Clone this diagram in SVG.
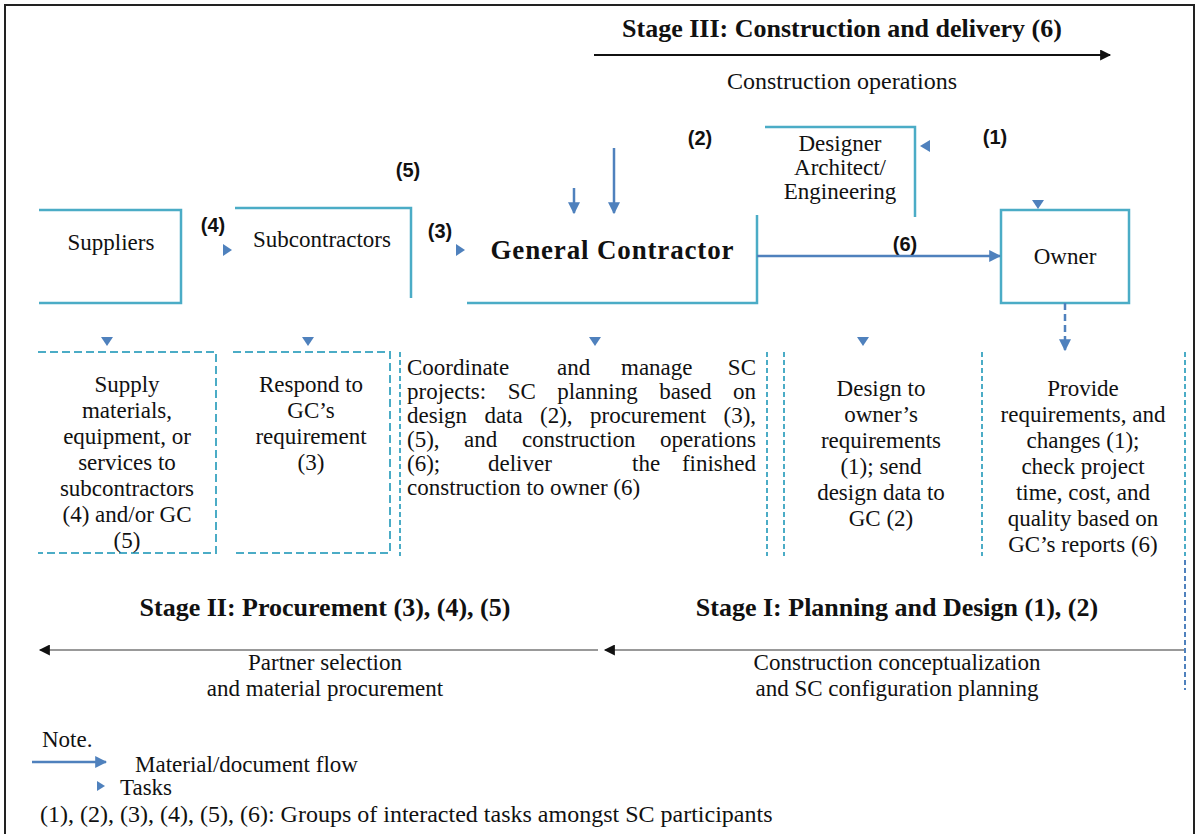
<svg xmlns="http://www.w3.org/2000/svg" width="1199" height="834" viewBox="0 0 1199 834">
<defs>
<style>
.frame{fill:none;stroke:#222;stroke-width:2}
.box{fill:none;stroke:#4BACC6;stroke-width:2.5}
.dash{fill:none;stroke:#4BACC6;stroke-width:2;stroke-dasharray:8 4}
.vdash{fill:none;stroke:#4BACC6;stroke-width:2;stroke-dasharray:5 3}
.flow{fill:none;stroke:#4F81BD;stroke-width:2.5}
.tri{fill:#4F81BD}
.stage{fill:none;stroke:#999;stroke-width:2}
.t{font-family:"Liberation Serif","Times New Roman",serif;font-size:23px;fill:#111}
.c{text-anchor:middle}
.h{font-family:"Liberation Serif","Times New Roman",serif;font-size:26px;font-weight:bold;fill:#111;text-anchor:middle}
.n{font-family:"Liberation Sans",Arial,sans-serif;font-size:20px;font-weight:bold;fill:#111;text-anchor:middle}
</style>
<marker id="ab2" viewBox="0 0 10 10" refX="9" refY="5" markerWidth="12" markerHeight="12" orient="auto" markerUnits="userSpaceOnUse">
<path d="M0,0 L10,5 L0,10 z" fill="#4F81BD"/>
</marker>
<marker id="ak" viewBox="0 0 10 10" refX="9" refY="5" markerWidth="13" markerHeight="11" orient="auto" markerUnits="userSpaceOnUse">
<path d="M0,0 L10,5 L0,10 z" fill="#111"/>
</marker>
</defs>
<rect width="1199" height="834" fill="#fff"/>
<rect class="frame" x="5" y="5" width="1189" height="850"/>

<g id="stage3">
<text class="h" x="842" y="37">Stage III: Construction and delivery (6)</text>
<text class="t c" x="842" y="89" style="font-size:24px">Construction operations</text>
</g>
<g id="stage2">
<text class="h" x="325" y="616">Stage II: Procurement (3), (4), (5)</text>
<text class="t c" x="325" y="670">Partner selection</text>
<text class="t c" x="325" y="696">and material procurement</text>
</g>
<g id="stage1">
<text class="h" x="897" y="616">Stage I: Planning and Design (1), (2)</text>
<text class="t c" x="897" y="670">Construction conceptualization</text>
<text class="t c" x="897" y="696">and SC configuration planning</text>
</g>

<g id="suppliers">
<path class="box" d="M39,210 H181 V303 H39"/>
<text class="t c" x="111" y="250">Suppliers</text>
</g>
<g id="subcontractors">
<path class="box" d="M235,208 H411 V298"/>
<text class="t c" x="322" y="247">Subcontractors</text>
</g>
<g id="general-contractor">
<path class="box" d="M467,303 H757 V215"/>
<text x="612" y="259" font-family="Liberation Serif, Times New Roman, serif" font-size="27" font-weight="bold" fill="#111" text-anchor="middle" textLength="243" lengthAdjust="spacing">General Contractor</text>
</g>
<g id="designer">
<path class="box" d="M765,127 H915 V217"/>
<text class="t c" x="840" y="151">Designer</text>
<text class="t c" x="840" y="175">Architect/</text>
<text class="t c" x="840" y="199">Engineering</text>
</g>
<g id="owner">
<rect class="box" x="1001" y="210" width="128" height="93"/>
<text class="t c" x="1065" y="264">Owner</text>
</g>

<g id="labels">
<text class="n" x="700" y="145">(2)</text>
<text class="n" x="995" y="144">(1)</text>
<text class="n" x="408" y="177">(5)</text>
<text class="n" x="213" y="232">(4)</text>
<text class="n" x="440" y="238">(3)</text>
<text class="n" x="905" y="251">(6)</text>
</g>

<g id="connectors">
<line x1="594" y1="55" x2="1110" y2="55" stroke="#111" stroke-width="2" marker-end="url(#ak)"/>
<line class="flow" x1="574" y1="188" x2="574" y2="213" marker-end="url(#ab2)"/>
<line class="flow" x1="614" y1="148" x2="614" y2="213" marker-end="url(#ab2)"/>
<line class="flow" x1="757" y1="256" x2="1000" y2="256" marker-end="url(#ab2)"/>
<line class="flow" x1="1065" y1="303" x2="1065" y2="350" stroke-dasharray="7 4" marker-end="url(#ab2)"/>
<line class="stage" x1="598" y1="650" x2="40" y2="650" marker-end="url(#ak)"/>
<line class="stage" x1="1185" y1="650" x2="605" y2="650" marker-end="url(#ak)"/>
</g>

<g id="tasks">
<polygon class="tri" points="920,146 930,140 930,152"/>
<polygon class="tri" points="1032,200 1044,200 1038,209"/>
<polygon class="tri" points="223,244 232,250 223,256"/>
<polygon class="tri" points="456,244 465,250 456,256"/>
<polygon class="tri" points="101,337 113,337 107,346"/>
<polygon class="tri" points="302,337 314,337 308,346"/>
<polygon class="tri" points="589,337 601,337 595,346"/>
<polygon class="tri" points="857,337 869,337 863,346"/>
</g>

<g id="task-supply">
<path class="dash" d="M38,352 H216 V553 H38"/>
<text class="t c" x="127" y="392">Supply</text>
<text class="t c" x="127" y="418">materials,</text>
<text class="t c" x="127" y="444">equipment, or</text>
<text class="t c" x="127" y="470">services to</text>
<text class="t c" x="127" y="496">subcontractors</text>
<text class="t c" x="127" y="522">(4) and/or GC</text>
<text class="t c" x="127" y="548">(5)</text>
</g>
<g id="task-respond">
<path class="dash" d="M233,352 H390 V553 H233"/>
<text class="t c" x="311" y="392">Respond to</text>
<text class="t c" x="311" y="418">GC’s</text>
<text class="t c" x="311" y="444">requirement</text>
<text class="t c" x="311" y="470">(3)</text>
</g>
<g id="task-coordinate">
<line class="vdash" x1="400" y1="352" x2="400" y2="556"/>
<line class="vdash" x1="767" y1="352" x2="767" y2="556"/>
<text class="t" y="375"><tspan x="407">Coordinate</tspan><tspan x="557">and</tspan><tspan x="621">manage</tspan><tspan x="756" text-anchor="end">SC</tspan></text>
<text class="t" x="407" y="399" style="word-spacing:15.7px">projects: SC planning based on</text>
<text class="t" x="407" y="423" style="word-spacing:11.6px">design data (2), procurement (3),</text>
<text class="t" x="407" y="447" style="word-spacing:18.8px">(5), and construction operations</text>
<text class="t" y="471"><tspan x="407">(6);</tspan><tspan x="488">deliver</tspan><tspan x="632">the</tspan><tspan x="756" text-anchor="end">finished</tspan></text>
<text class="t" x="407" y="495">construction to owner (6)</text>
</g>
<g id="task-design">
<line class="vdash" x1="784" y1="352" x2="784" y2="556"/>
<line class="vdash" x1="982" y1="352" x2="982" y2="556"/>
<text class="t c" x="881" y="396">Design to</text>
<text class="t c" x="881" y="422">owner’s</text>
<text class="t c" x="881" y="448">requirements</text>
<text class="t c" x="881" y="474">(1); send</text>
<text class="t c" x="881" y="500">design data to</text>
<text class="t c" x="881" y="526">GC (2)</text>
</g>
<g id="task-owner">
<line class="vdash" x1="1185" y1="352" x2="1185" y2="556"/>
<line x1="1185" y1="560" x2="1185" y2="690" stroke="#4F81BD" stroke-width="2" stroke-dasharray="5 3"/>
<text class="t c" x="1083" y="396">Provide</text>
<text class="t c" x="1083" y="422">requirements, and</text>
<text class="t c" x="1083" y="448">changes (1);</text>
<text class="t c" x="1083" y="474">check project</text>
<text class="t c" x="1083" y="500">time, cost, and</text>
<text class="t c" x="1083" y="526">quality based on</text>
<text class="t c" x="1083" y="552">GC’s reports (6)</text>
</g>

<g id="legend">
<text class="t" x="42" y="747">Note.</text>
<line class="flow" x1="32" y1="762" x2="106" y2="762" marker-end="url(#ab2)"/>
<text class="t" x="135" y="772">Material/document flow</text>
<polygon class="tri" points="97,781 105,786 97,791"/>
<text class="t" x="120" y="795">Tasks</text>
<text class="t" x="40" y="822" style="font-size:24px">(1), (2), (3), (4), (5), (6): Groups of interacted tasks amongst SC participants</text>
</g>
</svg>
